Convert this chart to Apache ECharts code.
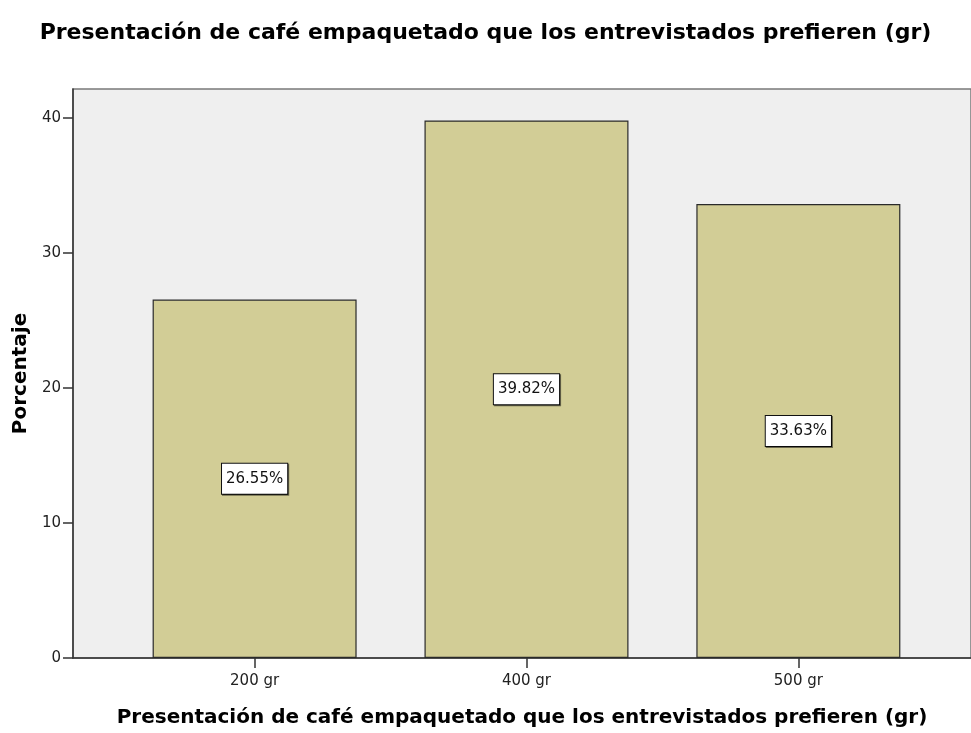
<!DOCTYPE html>
<html>
<head>
<meta charset="utf-8">
<script src="https://cdn.jsdelivr.net/npm/echarts@6/dist/echarts.min.js"></script>
<style>
  html, body { margin: 0; padding: 0; background: #fff; }
  #chart { width: 971px; height: 733px; }
</style>
</head>
<body>
<div id="chart"></div>
<script>
  // datos
  var categorias = ['200 gr', '400 gr', '500 gr']
  var porcentajes = [26.55, 39.82, 33.63]
  var ticksY = [0, 10, 20, 30, 40]

  var titulo = 'Presentación de café empaquetado que los entrevistados prefieren (gr)'

  var chart = echarts.init(document.getElementById('chart'))

  var datos = porcentajes.map(function (v, i) { return [i, v] })

  var options = {
    backgroundColor: '#fff',
    title: {
      text: titulo,
      left: 'center',
      top: 17,
      textStyle: {
        fontFamily: 'DejaVu Sans',
        fontSize: 22,
        fontWeight: 'bold',
        color: '#000'
      }
    },
    grid: {
      left: 73,
      top: 89,
      right: -2,
      bottom: 75,
      show: true,
      backgroundColor: '#efefef',
      borderColor: '#7a7a7a',
      borderWidth: 1.5
    },
    xAxis: {
      type: 'value',
      min: -0.668,
      max: 2.635,
      name: titulo,
      nameLocation: 'middle',
      nameGap: 50,
      nameTextStyle: {
        fontFamily: 'DejaVu Sans',
        fontSize: 20,
        fontWeight: 'bold',
        color: '#000'
      },
      splitLine: { show: false },
      axisLine: { show: true, lineStyle: { color: '#333', width: 1.5 } },
      axisTick: {
        show: true,
        customValues: [0, 1, 2],
        length: 10,
        lineStyle: { color: '#333', width: 1.5 }
      },
      axisLabel: {
        customValues: [0, 1, 2],
        fontFamily: 'DejaVu Sans',
        fontSize: 15,
        color: '#222',
        margin: 16,
        formatter: function (v) { return categorias[Math.round(v)] }
      }
    },
    yAxis: {
      type: 'value',
      min: 0,
      max: 42.15,
      name: 'Porcentaje',
      nameLocation: 'middle',
      nameGap: 40,
      nameTextStyle: {
        fontFamily: 'DejaVu Sans',
        fontSize: 20,
        fontWeight: 'bold',
        color: '#000'
      },
      splitLine: { show: false },
      axisLine: { show: true, onZero: false, lineStyle: { color: '#333', width: 1.5 } },
      axisTick: {
        show: true,
        customValues: ticksY,
        length: 10,
        lineStyle: { color: '#333', width: 1.5 }
      },
      axisLabel: {
        customValues: ticksY,
        fontFamily: 'DejaVu Sans',
        fontSize: 15,
        color: '#222',
        margin: 12
      }
    },
    series: [{
      type: 'bar',
      data: datos,
      barWidth: 204,
      itemStyle: {
        color: '#d2cd96',
        borderColor: '#2a2a2a',
        borderWidth: 1.2
      },
      label: {
        show: true,
        position: 'inside',
        formatter: function (p) { return p.value[1].toFixed(2) + '%' },
        fontFamily: 'DejaVu Sans',
        fontSize: 15,
        lineHeight: 16,
        color: '#111',
        backgroundColor: '#fff',
        borderColor: '#111',
        borderWidth: 1,
        padding: [7, 4, 7, 4],
        shadowColor: 'rgba(0,0,0,0.5)',
        shadowOffsetX: 1,
        shadowOffsetY: 1,
        shadowBlur: 0
      }
    }]
  }

  chart.setOption(options, true)
</script>
</body>
</html>
